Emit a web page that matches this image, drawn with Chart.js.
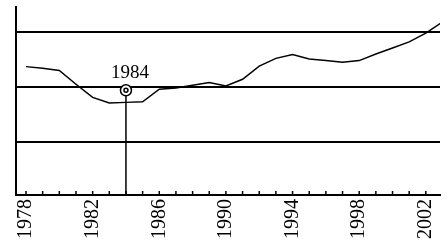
<!DOCTYPE html>
<html>
<head>
<meta charset="utf-8">
<script src="https://cdn.jsdelivr.net/npm/chart.js@4/dist/chart.umd.min.js"></script>
<style>
  html, body { margin: 0; padding: 0; background: #fff; }
  #wrap { width: 448px; height: 245px; }
</style>
</head>
<body>
<div id="wrap"><canvas id="chart" width="448" height="245"></canvas></div>
<script>
// Data (y axis has no labels; gridlines sit at 1, 2, 3)
const YEARS = [1978, 1979, 1980, 1981, 1982, 1983, 1984, 1985, 1986, 1987, 1988, 1989, 1990,
    1991, 1992, 1993, 1994, 1995, 1996, 1997, 1998, 1999, 2000, 2001, 2002, 2003];
const VALUES = [2.37, 2.34, 2.30, 2.05, 1.81, 1.71, 1.72, 1.73, 1.96, 1.98, 2.03, 2.08, 2.02,
    2.14, 2.38, 2.52, 2.59, 2.51, 2.48, 2.45, 2.48, 2.60, 2.71, 2.82, 2.98, 3.18];
const TICK_LABELS = [1978, 1982, 1986, 1990, 1994, 1998, 2002];
const GRID_VALUES = [1, 2, 3];
const MARK_YEAR = 1984;
const MARK_VALUE = 1.94;
const MARK_LABEL = "1984";

const X_MIN = 1977.4;
const X_MAX = 2002.85;
const Y_MIN = 0.036;
const Y_MAX = 3.454;

const SERIF = "'Liberation Serif', 'DejaVu Serif', serif";

// small tick marks pointing up from the x axis, one per year
const yearTicks = {
    id: "yearTicks",
    afterDraw(chart) {
        const ctx = chart.ctx;
        const xs = chart.scales.x;
        const bottom = chart.chartArea.bottom;
        ctx.save();
        ctx.strokeStyle = "#000";
        ctx.lineWidth = 1.5;
        for (let yr = 1978; yr <= 2002; yr++) {
            const px = xs.getPixelForValue(yr);
            ctx.beginPath();
            ctx.moveTo(px, bottom);
            ctx.lineTo(px, bottom - 4);
            ctx.stroke();
        }
        ctx.restore();
    }
};

// the "1984" caption above the marker
const markLabel = {
    id: "markLabel",
    afterDatasetsDraw(chart) {
        const ctx = chart.ctx;
        const px = chart.scales.x.getPixelForValue(MARK_YEAR);
        const py = chart.scales.y.getPixelForValue(MARK_VALUE);
        ctx.save();
        ctx.fillStyle = "#000";
        ctx.font = "19px " + SERIF;
        ctx.textAlign = "center";
        ctx.textBaseline = "alphabetic";
        ctx.fillText(MARK_LABEL, px + 4, py - 12);
        ctx.restore();
    }
};

const lineData = YEARS.map((yr, i) => ({ x: yr, y: VALUES[i] }));

new Chart(document.getElementById("chart"), {
    type: "line",
    data: {
        datasets: [
            {   // inner ring of the marker
                data: [{ x: MARK_YEAR, y: MARK_VALUE }],
                showLine: false,
                pointStyle: "circle",
                pointRadius: 2,
                pointBorderWidth: 1.5,
                pointBorderColor: "#000",
                pointBackgroundColor: "#fff"
            },
            {   // outer ring of the marker
                data: [{ x: MARK_YEAR, y: MARK_VALUE }],
                showLine: false,
                pointStyle: "circle",
                pointRadius: 5.5,
                pointBorderWidth: 1.5,
                pointBorderColor: "#000",
                pointBackgroundColor: "#fff"
            },
            {   // main series
                data: lineData,
                borderColor: "#000",
                borderWidth: 1.5,
                pointRadius: 0,
                tension: 0,
                fill: false
            },
            {   // drop line from marker to axis
                data: [{ x: MARK_YEAR, y: MARK_VALUE }, { x: MARK_YEAR, y: Y_MIN }],
                borderColor: "#000",
                borderWidth: 1.5,
                pointRadius: 0,
                fill: false
            }
        ]
    },
    options: {
        responsive: false,
        animation: false,
        layout: { padding: { left: 16, right: 8, top: 6, bottom: 2 } },
        plugins: {
            legend: { display: false },
            tooltip: { enabled: false }
        },
        scales: {
            x: {
                type: "linear",
                min: X_MIN,
                max: X_MAX,
                afterBuildTicks: (scale) => {
                    scale.ticks = TICK_LABELS.map(v => ({ value: v }));
                },
                afterFit: (scale) => {
                    scale.paddingLeft = 0;
                    scale.paddingRight = 0;
                },
                grid: { drawOnChartArea: false, drawTicks: false },
                border: { color: "#000", width: 2 },
                ticks: {
                    autoSkip: false,
                    minRotation: 90,
                    maxRotation: 90,
                    padding: 4,
                    color: "#000",
                    font: { family: SERIF, size: 20 },
                    callback: (v) => String(v)
                }
            },
            y: {
                type: "linear",
                min: Y_MIN,
                max: Y_MAX,
                afterBuildTicks: (scale) => {
                    scale.ticks = GRID_VALUES.map(v => ({ value: v }));
                },
                grid: { color: "#000", lineWidth: 2, drawTicks: false },
                border: { color: "#000", width: 2 },
                ticks: { display: false }
            }
        }
    },
    plugins: [yearTicks, markLabel]
});
</script>
</body>
</html>
